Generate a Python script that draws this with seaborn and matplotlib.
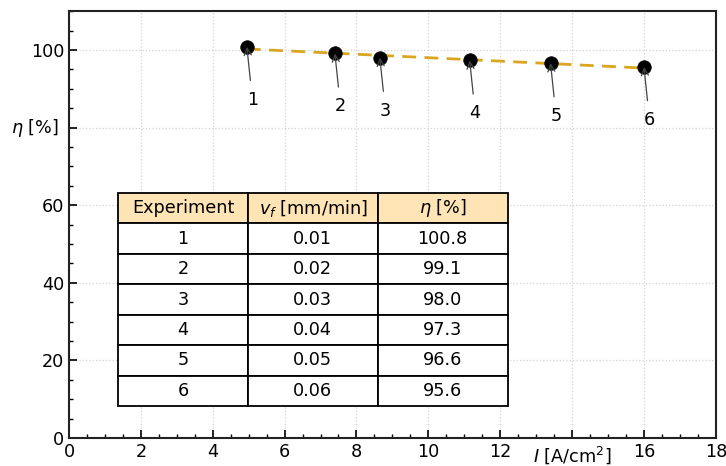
import matplotlib
matplotlib.use("Agg")
import matplotlib.pyplot as plt
import seaborn as sns
import pandas as pd

# Data
experiments = [1, 2, 3, 4, 5, 6]
current_density = [4.95, 7.4, 8.65, 11.15, 13.4, 16.0]
feed_rate = ["0.01", "0.02", "0.03", "0.04", "0.05", "0.06"]
efficiency = [100.8, 99.1, 98.0, 97.3, 96.6, 95.6]
x_tick_labels = ["0", "2", "4", "6", "8", "10", "12", "", "16", "18"]
y_tick_labels = ["0", "20", "40", "60", "", "100"]
col_labels = ["Experiment", r"$v_f$ [mm/min]", r"$\eta$ [%]"]

df = pd.DataFrame({"I": current_density, "eta": efficiency, "exp": experiments})

FS = 12.7

sns.set_style("white")
plt.rcParams["font.family"] = "sans-serif"
plt.rcParams["font.sans-serif"] = ["DejaVu Sans"]
plt.rcParams["text.color"] = "black"
plt.rcParams["xtick.color"] = "black"
plt.rcParams["ytick.color"] = "black"
plt.rcParams["axes.labelcolor"] = "black"
plt.rcParams["mathtext.fontset"] = "dejavusans"

fig = plt.figure(figsize=(7.26, 4.66), dpi=100)
ax = fig.add_axes([0.095, 0.060, 0.891, 0.916])

sns.regplot(data=df, x="I", y="eta", ax=ax, ci=None, scatter=False, truncate=True,
            line_kws=dict(ls="--", color="#DAA520", lw=2, dashes=(5, 3)))
sns.scatterplot(data=df, x="I", y="eta", ax=ax, color="black", s=95, edgecolor="black",
                linewidth=0.5, zorder=3)

for xi, yi, n in zip(current_density, efficiency, experiments):
    ax.annotate(str(n), xy=(xi, yi), xytext=(4, -38), textcoords="offset points",
                ha="center", va="center", fontsize=FS, color="black",
                arrowprops=dict(arrowstyle="->", color="#444444", lw=0.9,
                                shrinkA=5, shrinkB=0))

ax.set_xlim(0, 18)
ax.set_ylim(0, 110)
ax.set_xticks(range(0, 19, 2))
ax.set_xticklabels(x_tick_labels, fontsize=FS)
ax.set_yticks(range(0, 101, 20))
ax.set_yticklabels(y_tick_labels, fontsize=FS)
ax.set_xticks([i * 0.5 for i in range(37)], minor=True)
ax.set_yticks(range(0, 111, 5), minor=True)
ax.tick_params(which="major", direction="in", length=6, width=1.2, bottom=True, left=True,
               colors="black")
ax.tick_params(which="minor", direction="in", length=3, width=1, bottom=True, left=True,
               colors="black")
ax.grid(True, which="major", ls=":", color="#d3d3d3", lw=0.9)

ax.set_xlabel(r"$I$ [A/cm$^2$]", fontsize=FS)
ax.xaxis.set_label_coords(14 / 18, -0.015)
ax.set_ylabel(r"$\eta$ [%]", fontsize=FS, rotation=0, ha="center", va="center")
ax.yaxis.set_label_coords(-0.052, 80 / 110)

for s in ax.spines.values():
    s.set_color("#222222")
    s.set_linewidth(1.5)

cell_text = [[str(e), f, f"{v:.1f}"] for e, f, v in zip(experiments, feed_rate, efficiency)]
tbl = ax.table(cellText=cell_text, colLabels=col_labels, cellLoc="center",
               bbox=[0.076, 0.075, 0.602, 0.499], zorder=4)
tbl.auto_set_font_size(False)
tbl.set_fontsize(FS)
for (r, c), cell in tbl.get_celld().items():
    cell.set_edgecolor("black")
    cell.set_linewidth(1.3)
    cell.get_text().set_color("black")
    if r == 0:
        cell.set_facecolor("#FFE4B5")
    else:
        cell.set_facecolor("white")

fig.savefig("out.png", dpi=100)
